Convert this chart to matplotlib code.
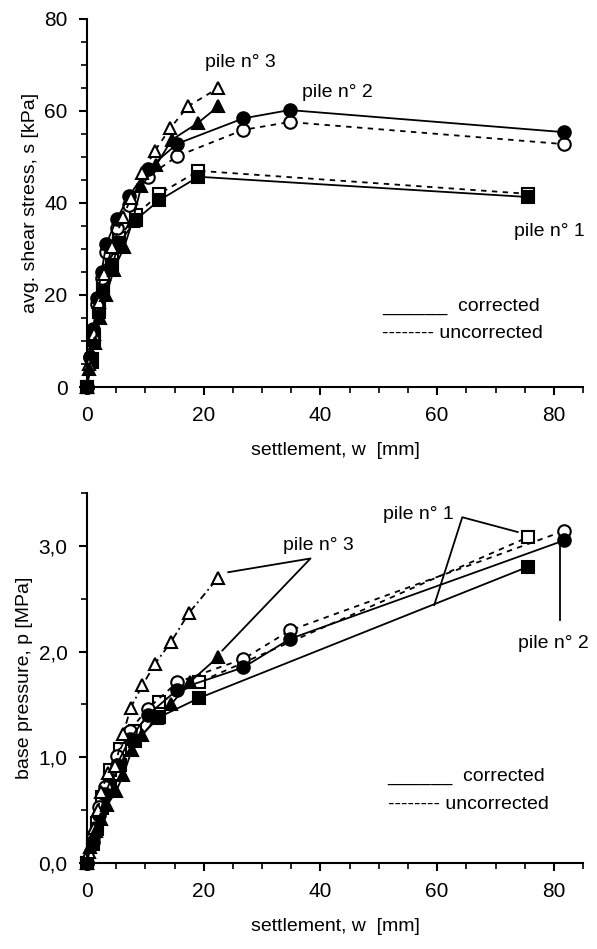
import numpy as np
import matplotlib
matplotlib.use('Agg')
import matplotlib.pyplot as plt

plt.rcParams['font.family'] = ['Liberation Sans', 'DejaVu Sans']
plt.rcParams['font.size'] = 14

# ---- shear stress (top) ----
s1_w    = [0, 0.8, 1.2, 2.0, 2.8, 4.3, 5.5, 8.4, 12.4, 19.1, 75.5]
s1_corr = [0, 5.4, 10.2, 16.3, 21.1, 26.5, 31.2, 36.4, 40.6, 45.7, 41.3]
s1_unc  = [0, 6.0, 11.0, 17.0, 22.0, 27.5, 32.4, 37.4, 42.0, 47.0, 42.0]

s2_w    = [0, 0.5, 1.1, 1.7, 2.5, 3.3, 5.1, 7.2, 10.4, 15.5, 26.8, 34.7, 81.7]
s2_corr = [0, 6.5, 12.6, 19.3, 25.0, 31.1, 36.5, 41.5, 47.4, 52.9, 58.4, 60.2, 55.4]
s2_unc  = [0, 6.5, 12.4, 18.0, 23.7, 29.3, 34.6, 39.6, 45.7, 50.2, 55.9, 57.6, 52.8]

s3_w_unc  = [0, 0.4, 1.2, 2.1, 3.0, 4.3, 6.2, 7.5, 9.5, 11.6, 14.3, 17.3, 22.5]
s3_unc    = [0, 5.0, 11.5, 18.5, 24.5, 30.5, 37.0, 41.0, 46.5, 51.3, 56.3, 61.0, 65.0]
s3_w_corr = [0, 0.3, 1.3, 2.2, 3.3, 4.6, 6.4, 7.8, 9.3, 11.9, 14.5, 19.0, 22.5]
s3_corr   = [0, 4.0, 9.5, 15.0, 20.0, 25.5, 30.5, 36.0, 43.6, 48.3, 53.7, 57.4, 61.0]

# ---- base pressure (bottom) ----
p1_w    = [0, 1.0, 1.7, 2.6, 3.9, 5.6, 8.3, 12.4, 19.2, 75.5]
p1_corr = [0, 0.18, 0.32, 0.52, 0.73, 0.93, 1.15, 1.38, 1.56, 2.80]
p1_unc  = [0, 0.24, 0.38, 0.62, 0.88, 1.08, 1.25, 1.52, 1.71, 3.08]

p2_w    = [0, 1.1, 2.1, 3.1, 5.1, 7.3, 10.4, 15.5, 26.8, 34.8, 81.7]
p2_corr = [0, 0.20, 0.45, 0.65, 0.93, 1.17, 1.40, 1.64, 1.85, 2.12, 3.05]
p2_unc  = [0, 0.25, 0.53, 0.72, 1.01, 1.25, 1.46, 1.71, 1.93, 2.20, 3.14]

p3_w_unc  = [0, 0.4, 1.2, 1.9, 2.4, 3.6, 4.8, 6.2, 7.5, 9.5, 11.6, 14.4, 17.4, 22.5]
p3_unc    = [0, 0.10, 0.33, 0.50, 0.67, 0.85, 0.92, 1.22, 1.47, 1.68, 1.88, 2.09, 2.36, 2.70]
p3_w_corr = [0, 0.6, 1.6, 2.4, 3.5, 5.0, 6.2, 7.7, 9.4, 12.0, 14.4, 17.6, 22.5]
p3_corr   = [0, 0.15, 0.30, 0.42, 0.55, 0.68, 0.83, 1.07, 1.21, 1.37, 1.50, 1.71, 1.95]

fig = plt.figure(figsize=(5.97, 9.49), dpi=100)
ax1 = fig.add_axes([0.1457, 0.5922, 0.831, 0.3878])
ax2 = fig.add_axes([0.1457, 0.0906, 0.831, 0.390])

ms = 9
mew = 1.5
lw = 1.3
dash = (0, (3, 3))

def draw(ax, w, y, marker, filled, ls):
    ax.plot(w, y, color='black', lw=lw, ls=ls, marker=marker, ms=ms, mew=mew,
            mfc='black' if filled else 'white', mec='black', clip_on=False)

#1.) top plot
draw(ax1, s1_w, s1_unc, 's', False, dash)
draw(ax1, s1_w, s1_corr, 's', True, '-')
draw(ax1, s2_w, s2_unc, 'o', False, dash)
draw(ax1, s2_w, s2_corr, 'o', True, '-')
draw(ax1, s3_w_unc, s3_unc, '^', False, dash)
draw(ax1, s3_w_corr, s3_corr, '^', True, '-')

ax1.text(20.2, 70.6, 'pile n° 3', va='center', ha='left')
ax1.text(36.9, 64.1, 'pile n° 2', va='center', ha='left')
ax1.text(73.1, 33.9, 'pile n° 1', va='center', ha='left')
ax1.text(50.6, 17.5, '______  corrected', va='center', ha='left')
ax1.text(50.6, 11.7, '-------- uncorrected', va='center', ha='left')

ax1.set_xlim(0, 85)
ax1.set_ylim(0, 80)
ax1.set_xticks(np.arange(0, 81, 20))
ax1.set_xticks(np.arange(0, 86, 5), minor=True)
ax1.set_yticks(np.arange(0, 81, 20))
ax1.set_yticks(np.arange(0, 81, 5), minor=True)
ax1.set_ylabel('avg. shear stress, s [kPa]')
ax1.set_xlabel('settlement, w  [mm]', labelpad=12)

#2.) bottom plot
draw(ax2, p1_w, p1_unc, 's', False, dash)
draw(ax2, p1_w, p1_corr, 's', True, '-')
draw(ax2, p2_w, p2_unc, 'o', False, dash)
draw(ax2, p2_w, p2_corr, 'o', True, '-')
draw(ax2, p3_w_unc, p3_unc, '^', False, (0, (4, 2, 1, 2)))
draw(ax2, p3_w_corr, p3_corr, '^', True, '-')

# leader lines
ax2.plot([24.2, 38.3, 23.2], [2.75, 2.88, 2.01], color='black', lw=lw)
ax2.plot([73.8, 64.3, 59.5], [3.13, 3.27, 2.44], color='black', lw=lw)
ax2.plot([81.0, 81.0], [3.03, 2.30], color='black', lw=lw)

ax2.text(33.6, 3.0, 'pile n° 3', va='center', ha='left')
ax2.text(50.8, 3.30, 'pile n° 1', va='center', ha='left')
ax2.text(73.9, 2.08, 'pile n° 2', va='center', ha='left')
ax2.text(51.5, 0.82, '______  corrected', va='center', ha='left')
ax2.text(51.5, 0.55, '-------- uncorrected', va='center', ha='left')

ax2.set_xlim(0, 85)
ax2.set_ylim(0, 3.5)
ax2.set_xticks(np.arange(0, 81, 20))
ax2.set_xticks(np.arange(0, 86, 5), minor=True)
ax2.set_yticks(np.arange(0, 3.1, 1.0))
ax2.set_yticklabels(['0,0', '1,0', '2,0', '3,0'])
ax2.set_yticks(np.arange(0, 3.51, 0.5), minor=True)
ax2.set_ylabel('base pressure, p [MPa]')
ax2.set_xlabel('settlement, w  [mm]', labelpad=12)

for ax in (ax1, ax2):
    ax.spines['top'].set_visible(False)
    ax.spines['right'].set_visible(False)
    ax.spines['left'].set_linewidth(1.5)
    ax.spines['bottom'].set_linewidth(1.5)
    ax.tick_params(which='major', length=6, width=1.5, pad=8, labelsize=15)
    ax.tick_params(which='minor', length=4, width=1.2)

fig.savefig('out.png', dpi=100)
